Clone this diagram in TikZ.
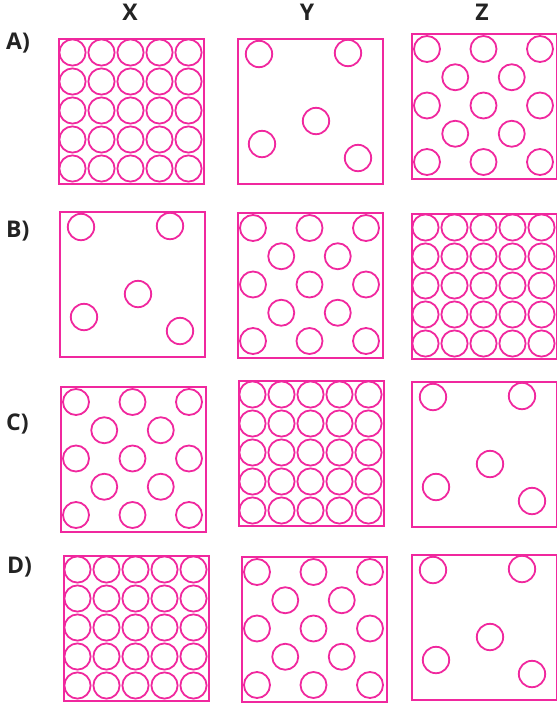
\documentclass[tikz,border=0pt]{standalone}
\usepackage{fontspec}
\setmainfont{Open Sans}
\usepackage{xcolor}
\usepackage{tikz}
\usetikzlibrary{positioning}

\definecolor{beadpink}{RGB}{240,40,158}
\definecolor{labelgray}{RGB}{35,35,35}

% the three ways the circles are arranged in a box
\newcommand{\packedbeads}[1]{%
    \begin{scope}[shift={(#1.north west)}]
        \foreach \i in {0,...,4}
            \foreach \j in {0,...,4}
                \draw[bead] (14.5+29*\i, 14.5+29*\j) circle[radius=13.1pt];
    \end{scope}}
\newcommand{\hexbeads}[1]{%
    \begin{scope}[shift={(#1.north west)}]
        \foreach \yy in {16,72.5,129}
            \foreach \xx in {16,72.5,129}
                \draw[bead] (\xx,\yy) circle[radius=13pt];
        \foreach \yy in {44.25,100.75}
            \foreach \xx in {44.25,100.75}
                \draw[bead] (\xx,\yy) circle[radius=13pt];
    \end{scope}}
\newcommand{\sparsebeads}[1]{%
    \begin{scope}[shift={(#1.north west)}]
        \foreach \xx/\yy in {22/16, 111/15, 79/83, 25/106, 121/120}
            \draw[bead] (\xx,\yy) circle[radius=13.2pt];
    \end{scope}}

\begin{document}
\begin{tikzpicture}[x=1pt, y=-1pt,
        panel/.style={
            rectangle, draw=beadpink, color=beadpink, line width=1.6pt,
            minimum size=145pt, inner sep=0pt, anchor=north west
        },
        bead/.style={draw=beadpink, line width=1.8pt},
        collabel/.style={
            font=\fontsize{23}{25}\selectfont\bfseries,
            text=labelgray, inner sep=0pt, anchor=base
        },
        rowlabel/.style={
            font=\fontsize{23}{25}\selectfont\bfseries,
            text=labelgray, inner sep=0pt, anchor=base west
        }
    ]
    \useasboundingbox (0,0) rectangle (557,705);

    % column and row labels
    \node[collabel] (colx) at (130,20) {X};
    \node[collabel] (coly) at (307,20) {Y};
    \node[collabel] (colz) at (482,20) {Z};

    \node[rowlabel] (rowa) at (6,49) {A)};
    \node[rowlabel] (rowb) at (6,237) {B)};
    \node[rowlabel] (rowc) at (6,430) {C)};
    \node[rowlabel] (rowd) at (7,573) {D)};

    % row A
    \node[panel] (ax) at (58,38) {};
    \node[panel] (ay) at (237,38) {};
    \node[panel] (az) at (411,33) {};
    \packedbeads{ax}
    \sparsebeads{ay}
    \hexbeads{az}

    % row B
    \node[panel] (bx) at (59,211) {};
    \node[panel] (by) at (237,212) {};
    \node[panel] (bz) at (411,213) {};
    \sparsebeads{bx}
    \hexbeads{by}
    \packedbeads{bz}

    % row C
    \node[panel] (cx) at (60,386) {};
    \node[panel] (cy) at (238,380) {};
    \node[panel] (cz) at (411,381) {};
    \hexbeads{cx}
    \packedbeads{cy}
    \sparsebeads{cz}

    % row D
    \node[panel] (dx) at (63,555) {};
    \node[panel] (dy) at (241,556) {};
    \node[panel] (dz) at (411,554) {};
    \packedbeads{dx}
    \hexbeads{dy}
    \sparsebeads{dz}
\end{tikzpicture}
\end{document}
